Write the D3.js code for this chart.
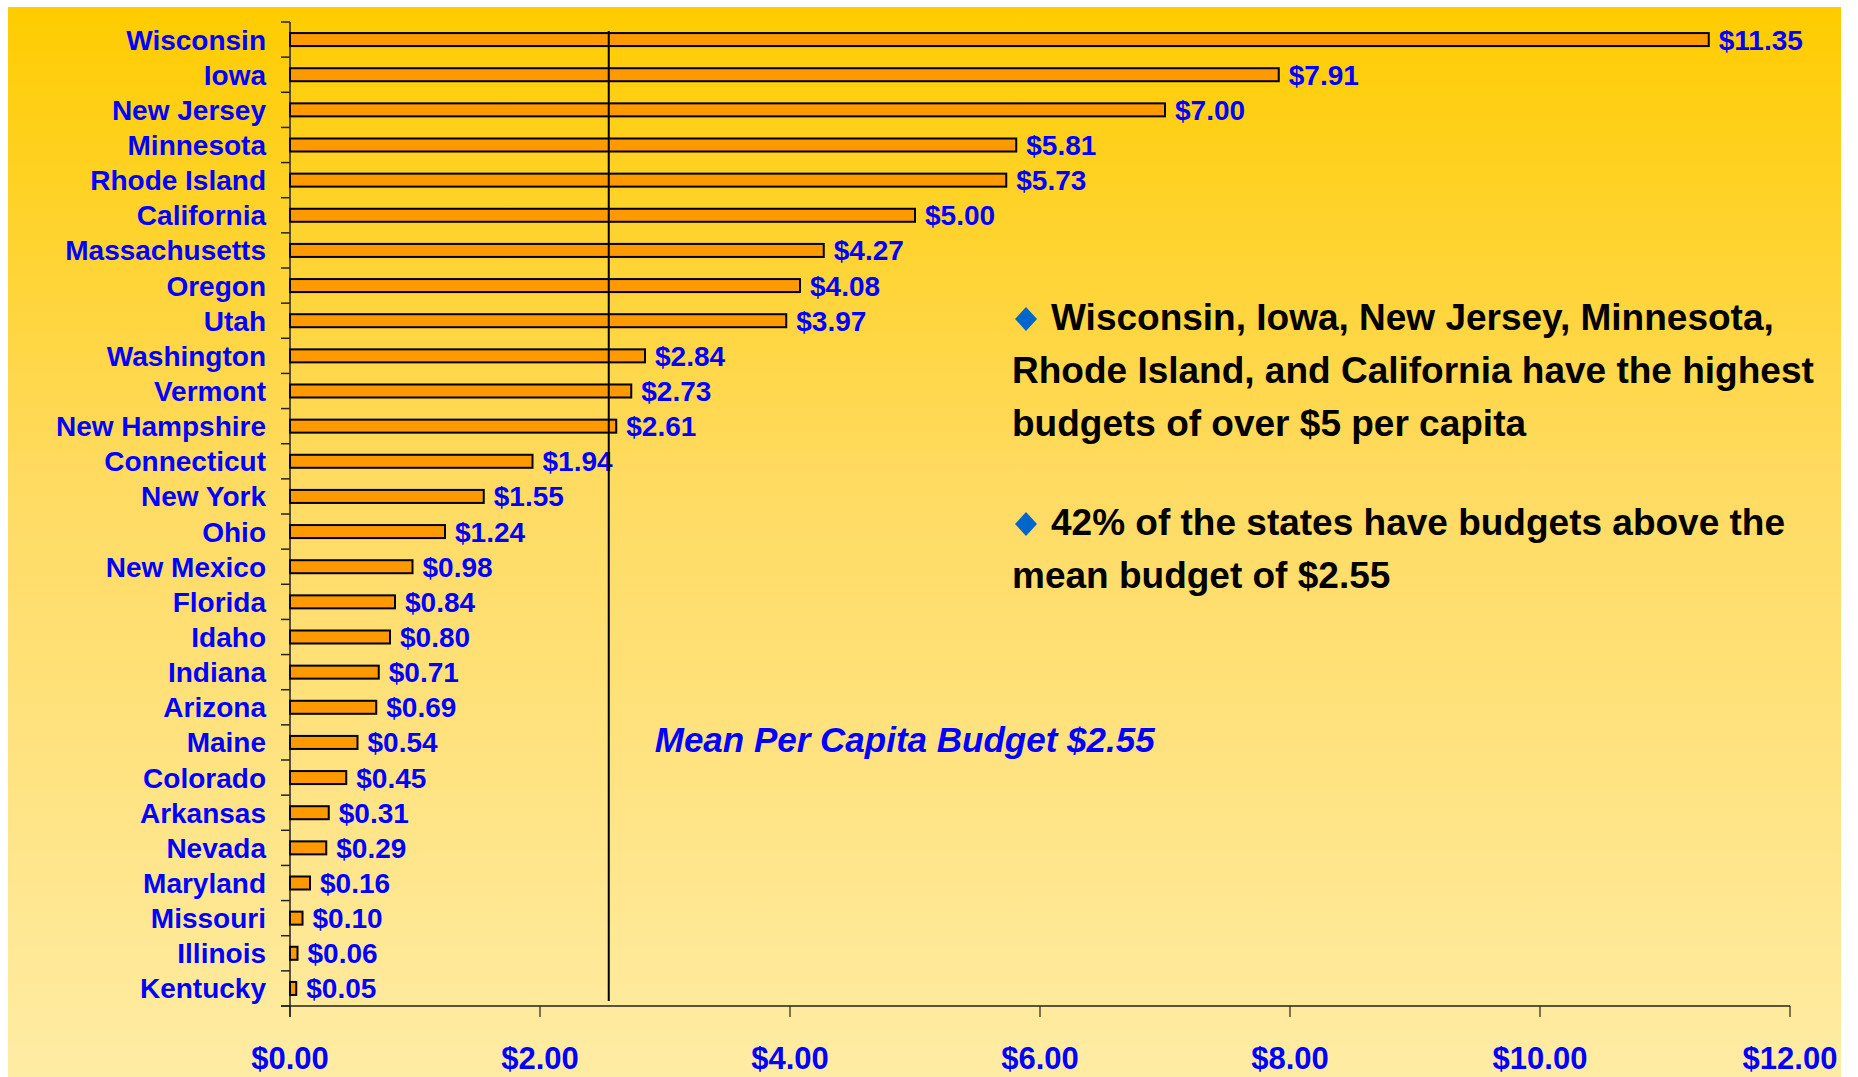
<!DOCTYPE html>
<html>
<head>
<meta charset="utf-8">
<script src="https://cdn.jsdelivr.net/npm/d3@7"></script>
<style>
  body { margin: 0; background: #fff; }
  text { font-family: "Liberation Sans", Arial, Helvetica, sans-serif; font-weight: bold; }
</style>
</head>
<body>
<div id="chart"></div>
<script>
const states = ["Wisconsin", "Iowa", "New Jersey", "Minnesota", "Rhode Island", "California",
  "Massachusetts", "Oregon", "Utah", "Washington", "Vermont", "New Hampshire", "Connecticut",
  "New York", "Ohio", "New Mexico", "Florida", "Idaho", "Indiana", "Arizona", "Maine",
  "Colorado", "Arkansas", "Nevada", "Maryland", "Missouri", "Illinois", "Kentucky"];
const budgets = [11.35, 7.91, 7.00, 5.81, 5.73, 5.00, 4.27, 4.08, 3.97, 2.84, 2.73, 2.61, 1.94,
  1.55, 1.24, 0.98, 0.84, 0.80, 0.71, 0.69, 0.54, 0.45, 0.31, 0.29, 0.16, 0.10, 0.06, 0.05];
const xTicks = [0, 2, 4, 6, 8, 10, 12];
const meanBudget = 2.55;
const meanLabel = "Mean Per Capita Budget $2.55";
const notes = [
  ["Wisconsin, Iowa, New Jersey, Minnesota,", "Rhode Island, and California have the highest", "budgets of over $5 per capita"],
  ["42% of the states have budgets above the", "mean budget of $2.55"]
];

const W = 1858, H = 1077;
const svg = d3.select("#chart").append("svg").attr("width", W).attr("height", H);

// background panel with vertical gradient
const grad = svg.append("defs").append("linearGradient")
  .attr("id", "bg").attr("x1", 0).attr("y1", 0).attr("x2", 0).attr("y2", 1);
grad.append("stop").attr("offset", "0%").attr("stop-color", "#FFCC00");
grad.append("stop").attr("offset", "45%").attr("stop-color", "#FFDB62");
grad.append("stop").attr("offset", "100%").attr("stop-color", "#FFECA4");
svg.append("rect").attr("x", 8).attr("y", 7).attr("width", 1833).attr("height", H - 7)
  .attr("fill", "url(#bg)");

let x = d3.scaleLinear().domain([0, 12]).range([290, 1790]);
let y = d3.scaleBand().domain(states).range([22, 1006]).paddingInner(0.63).paddingOuter(0.315);
const step = y.step();

// axes
svg.append("line").attr("x1", x(0)).attr("x2", x(0)).attr("y1", 22).attr("y2", 1017)
  .attr("stroke", "#222").attr("stroke-width", 1.5);
svg.append("line").attr("x1", 281).attr("x2", x(12)).attr("y1", 1006).attr("y2", 1006)
  .attr("stroke", "#222").attr("stroke-width", 1.5);
svg.selectAll(".ytick").data(d3.range(states.length + 1)).enter().append("line")
  .attr("x1", 281).attr("x2", x(0))
  .attr("y1", i => 22 + i * step).attr("y2", i => 22 + i * step)
  .attr("stroke", "#222").attr("stroke-width", 1.5);
svg.selectAll(".xtick").data(xTicks).enter().append("line")
  .attr("x1", d => x(d)).attr("x2", d => x(d)).attr("y1", 1006).attr("y2", 1017)
  .attr("stroke", "#222").attr("stroke-width", 1.2);
svg.selectAll(".xlab").data(xTicks).enter().append("text")
  .attr("x", d => x(d)).attr("y", 1069).attr("text-anchor", "middle")
  .attr("font-size", 31).attr("fill", "#0000FF")
  .text(d => "$" + d.toFixed(2));

// bars
svg.selectAll(".bar").data(budgets).enter().append("rect")
  .attr("x", x(0)).attr("y", (d, i) => y(states[i]))
  .attr("width", d => x(d) - x(0)).attr("height", y.bandwidth())
  .attr("fill", "#FF9900").attr("stroke", "#000").attr("stroke-width", 2);

// state labels
svg.selectAll(".slab").data(states).enter().append("text")
  .attr("x", 266).attr("y", d => y(d) + y.bandwidth() / 2 + 10)
  .attr("text-anchor", "end").attr("font-size", 28).attr("fill", "#0000FF")
  .text(d => d);

// value labels
svg.selectAll(".vlab").data(budgets).enter().append("text")
  .attr("x", d => x(d) + 10).attr("y", (d, i) => y(states[i]) + y.bandwidth() / 2 + 10)
  .attr("font-size", 28).attr("fill", "#0000FF")
  .text(d => "$" + d.toFixed(2));

// mean line
svg.append("line").attr("x1", x(meanBudget)).attr("x2", x(meanBudget))
  .attr("y1", 31).attr("y2", 1001).attr("stroke", "#000").attr("stroke-width", 2);
svg.append("text").attr("x", x(meanBudget) + 46).attr("y", 752)
  .attr("font-size", 35).attr("font-style", "italic").attr("fill", "#0000FF")
  .text(meanLabel);

// bullet notes
const noteTop = [330, 535];
notes.forEach((lines, k) => {
  const by = noteTop[k];
  svg.append("path")
    .attr("d", `M1026,${by - 23} L1037,${by - 11} L1026,${by + 1} L1015,${by - 11} Z`)
    .attr("fill", "#0066CC");
  lines.forEach((t, j) => {
    svg.append("text").attr("x", j === 0 ? 1051 : 1012).attr("y", by + j * 53)
      .attr("font-size", 37).attr("fill", "#000").text(t);
  });
});
</script>
</body>
</html>
